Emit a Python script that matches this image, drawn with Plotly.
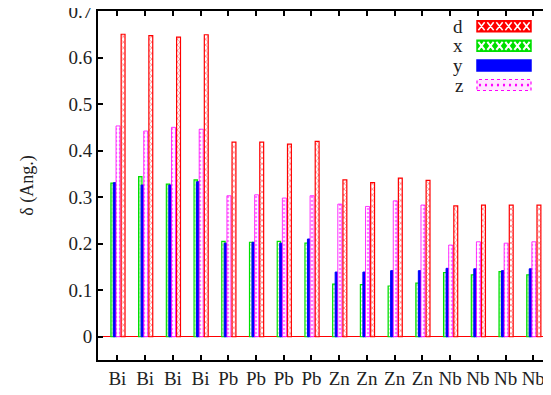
import plotly.graph_objects as go

categories = ["Bi", "Bi", "Bi", "Bi", "Pb", "Pb", "Pb", "Pb",
              "Zn", "Zn", "Zn", "Zn", "Nb", "Nb", "Nb", "Nb"]
d_vals = [0.650, 0.647, 0.644, 0.649, 0.418, 0.418, 0.414, 0.420,
          0.337, 0.331, 0.341, 0.336, 0.281, 0.283, 0.283, 0.283]
x_vals = [0.330, 0.344, 0.328, 0.337, 0.205, 0.203, 0.205, 0.201,
          0.113, 0.112, 0.109, 0.115, 0.138, 0.133, 0.140, 0.133]
y_vals = [0.331, 0.326, 0.326, 0.333, 0.201, 0.203, 0.201, 0.210,
          0.139, 0.139, 0.142, 0.142, 0.147, 0.146, 0.142, 0.146]
z_vals = [0.453, 0.442, 0.450, 0.446, 0.303, 0.305, 0.298, 0.303,
          0.285, 0.280, 0.292, 0.283, 0.197, 0.204, 0.201, 0.204]
y_ticks = [0, 0.1, 0.2, 0.3, 0.4, 0.5, 0.6, 0.7]
legend_names = ["d", "x", "y", "z"]

idx = list(range(len(categories)))
FONT = "Liberation Serif"
COL = {"d": "#ff0000", "x": "#00e000", "y": "#0000ff", "z": "#ff00ff"}


def style(name, psize):
    if name == "y":
        return dict(color=COL["y"], line=dict(color=COL["y"], width=1))
    shape = {"d": "x", "x": "+", "z": "."}[name]
    sol = {"d": 0.35, "x": 0.5, "z": 0.35}[name]
    return dict(color="white", line=dict(color=COL[name], width=1.2 if name != "z" else 0.8),
                pattern=dict(shape=shape, fgcolor=COL[name], bgcolor="white",
                             size=psize, solidity=sol))


geom = {"x": (-0.235, 0.12), "y": (-0.145, 0.115), "z": (-0.05, 0.145), "d": (0.135, 0.14)}
series = {"x": x_vals, "y": y_vals, "z": z_vals, "d": d_vals}

fig = go.Figure()
for name in ["x", "y", "z", "d"]:
    off, w = geom[name]
    fig.add_trace(go.Bar(x=idx, y=series[name], offset=off, width=w, name=name,
                         showlegend=False, marker=style(name, 4)))

# page has the browser's default 8px body margin; the figure fits the window exactly
PAGE_OFF = 8
FIG_W, FIG_H = 551 - PAGE_OFF, 395 - PAGE_OFF
# plot area in page pixels
PLOT_L, PLOT_R, PLOT_T, PLOT_B = 98, 551, 11, 360


def px_x(p):
    return (p - PLOT_L) / (PLOT_R - PLOT_L)


def px_y(p):
    return (PLOT_B - p) / (PLOT_B - PLOT_T)


# ---- custom legend drawn as layout decoration (label left of a wide swatch) ----
sw_x0, sw_x1 = px_x(477), px_x(531)
row_centers = [26.2, 45.8, 65.5, 85.0]
half_h = 5.5
fills = {"d": "#ff0000", "x": "#00e000", "y": "#0000ff", "z": "#ffe6ff"}
for name, yc in zip(legend_names, row_centers):
    y0, y1 = px_y(yc + half_h), px_y(yc - half_h)
    fig.add_shape(type="rect", xref="paper", yref="paper", x0=sw_x0, x1=sw_x1, y0=y0, y1=y1,
                  fillcolor=fills[name],
                  line=dict(color=COL[name], width=1.5 if name != "z" else 1.2,
                            dash="dot" if name == "z" else "solid"))
    if name in ("d", "x"):
        n = 6
        cw = (sw_x1 - sw_x0) / n
        yy0, yy1 = px_y(yc + half_h - 1.5), px_y(yc - half_h + 1.5)
        path = ""
        for i in range(n):
            a, b = sw_x0 + i * cw + cw * 0.15, sw_x0 + (i + 1) * cw - cw * 0.15
            path += f"M{a},{yy0} L{b},{yy1} M{a},{yy1} L{b},{yy0} "
        fig.add_shape(type="path", xref="paper", yref="paper", path=path,
                      line=dict(color="white", width=1.5 if name == "d" else 2))
    if name == "z":
        n = 9
        cw = (sw_x1 - sw_x0) / n
        for i in range(n):
            cx = sw_x0 + (i + 0.5) * cw
            fig.add_shape(type="circle", xref="paper", yref="paper",
                          x0=cx - 0.0025, x1=cx + 0.0025,
                          y0=px_y(yc + 1.5), y1=px_y(yc - 1.5),
                          fillcolor=COL["z"], line=dict(width=0))
    fig.add_annotation(x=px_x(465), y=px_y(yc), xref="paper", yref="paper", text=name,
                       showarrow=False, xanchor="right", yanchor="middle",
                       font=dict(family=FONT, size=19, color="#222"))

axis_common = dict(showline=True, linecolor="black", linewidth=2, mirror="allticks",
                   ticks="inside", ticklen=5, tickwidth=1.5, tickcolor="black",
                   showgrid=False, automargin=False)

fig.update_layout(
    width=FIG_W, height=FIG_H,
    margin=dict(l=PLOT_L - PAGE_OFF, r=551 - PLOT_R, t=PLOT_T - PAGE_OFF,
                b=395 - PLOT_B, autoexpand=False),
    paper_bgcolor="white", plot_bgcolor="white",
    barmode="overlay",
    font=dict(family=FONT, size=19, color="#222"),
    xaxis=dict(range=[-0.7, 15.64], tickvals=idx, ticktext=categories,
               tickfont=dict(family=FONT, size=19),
               zeroline=False, **axis_common),
    yaxis=dict(range=[-0.05, 0.7], tickvals=y_ticks, ticktext=[f"{v:g}" for v in y_ticks],
               ticksuffix=" ", tickfont=dict(family=FONT, size=19),
               ticklabeloverflow="allow",
               zeroline=True, zerolinecolor="#ff0000", zerolinewidth=1,
               title=dict(text="δ (Ang.)", font=dict(family=FONT, size=18), standoff=30),
               **axis_common),
)

fig.write_html("out.html")
